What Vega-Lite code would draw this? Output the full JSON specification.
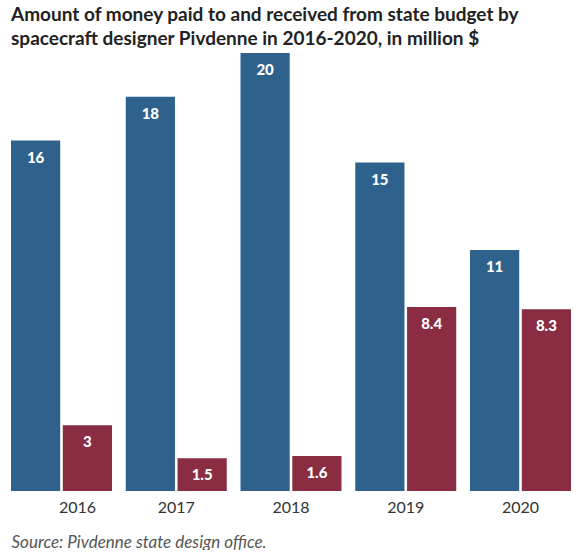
{
  "$schema": "https://vega.github.io/schema/vega-lite/v6.json",
  "width": 560,
  "height": 438,
  "padding": {"left": 11, "right": 8, "top": 6, "bottom": 0},
  "autosize": {"type": "pad"},
  "background": "#ffffff",
  "title": {
    "text": ["Amount of money paid to and received from state budget by", "spacecraft designer Pivdenne in 2016-2020, in million $"],
    "anchor": "start",
    "frame": "group",
    "font": "Lato",
    "fontSize": 19,
    "fontWeight": "bold",
    "color": "#222222",
    "lineHeight": 24,
    "offset": 4
  },
  "data": {
    "values": [
      {"year": "2016", "type": "Paid to budget", "value": 16},
      {"year": "2016", "type": "Received from budget", "value": 3},
      {"year": "2017", "type": "Paid to budget", "value": 18},
      {"year": "2017", "type": "Received from budget", "value": 1.5},
      {"year": "2018", "type": "Paid to budget", "value": 20},
      {"year": "2018", "type": "Received from budget", "value": 1.6},
      {"year": "2019", "type": "Paid to budget", "value": 15},
      {"year": "2019", "type": "Received from budget", "value": 8.4},
      {"year": "2020", "type": "Paid to budget", "value": 11},
      {"year": "2020", "type": "Received from budget", "value": 8.3}
    ]
  },
  "encoding": {
    "x": {
      "field": "year",
      "type": "nominal",
      "scale": {"paddingInner": 0.12, "paddingOuter": 0},
      "axis": {
        "labelAngle": 0,
        "domain": false,
        "ticks": false,
        "labelFont": "Lato",
        "labelFontSize": 16,
        "labelColor": "#333333",
        "labelPadding": 8,
        "labelOffset": {"condition": {"test": "datum.label == '2016'", "value": 16}, "value": 0},
        "title": "Source: Pivdenne state design office.",
        "titleFont": "Lato",
        "titleFontStyle": "italic",
        "titleFontWeight": "normal",
        "titleFontSize": 17,
        "titleColor": "#555555",
        "titleAnchor": "start",
        "titleAlign": "left",
        "titlePadding": 19
      }
    },
    "xOffset": {
      "field": "type",
      "type": "nominal",
      "sort": ["Paid to budget", "Received from budget"],
      "scale": {"paddingInner": 0.05, "paddingOuter": 0}
    },
    "y": {
      "field": "value",
      "type": "quantitative",
      "scale": {"domain": [0, 20], "nice": false},
      "axis": null
    }
  },
  "layer": [
    {
      "mark": {"type": "bar"},
      "encoding": {
        "color": {
          "field": "type",
          "type": "nominal",
          "scale": {"domain": ["Paid to budget", "Received from budget"], "range": ["#2e618c", "#8a2c42"]},
          "legend": null
        }
      }
    },
    {
      "mark": {"type": "text", "baseline": "middle", "dy": 17, "font": "Lato", "fontWeight": 900, "fontSize": 15, "color": "#ffffff"},
      "encoding": {
        "text": {"field": "value", "type": "quantitative"}
      }
    }
  ],
  "config": {"view": {"stroke": null}}
}
